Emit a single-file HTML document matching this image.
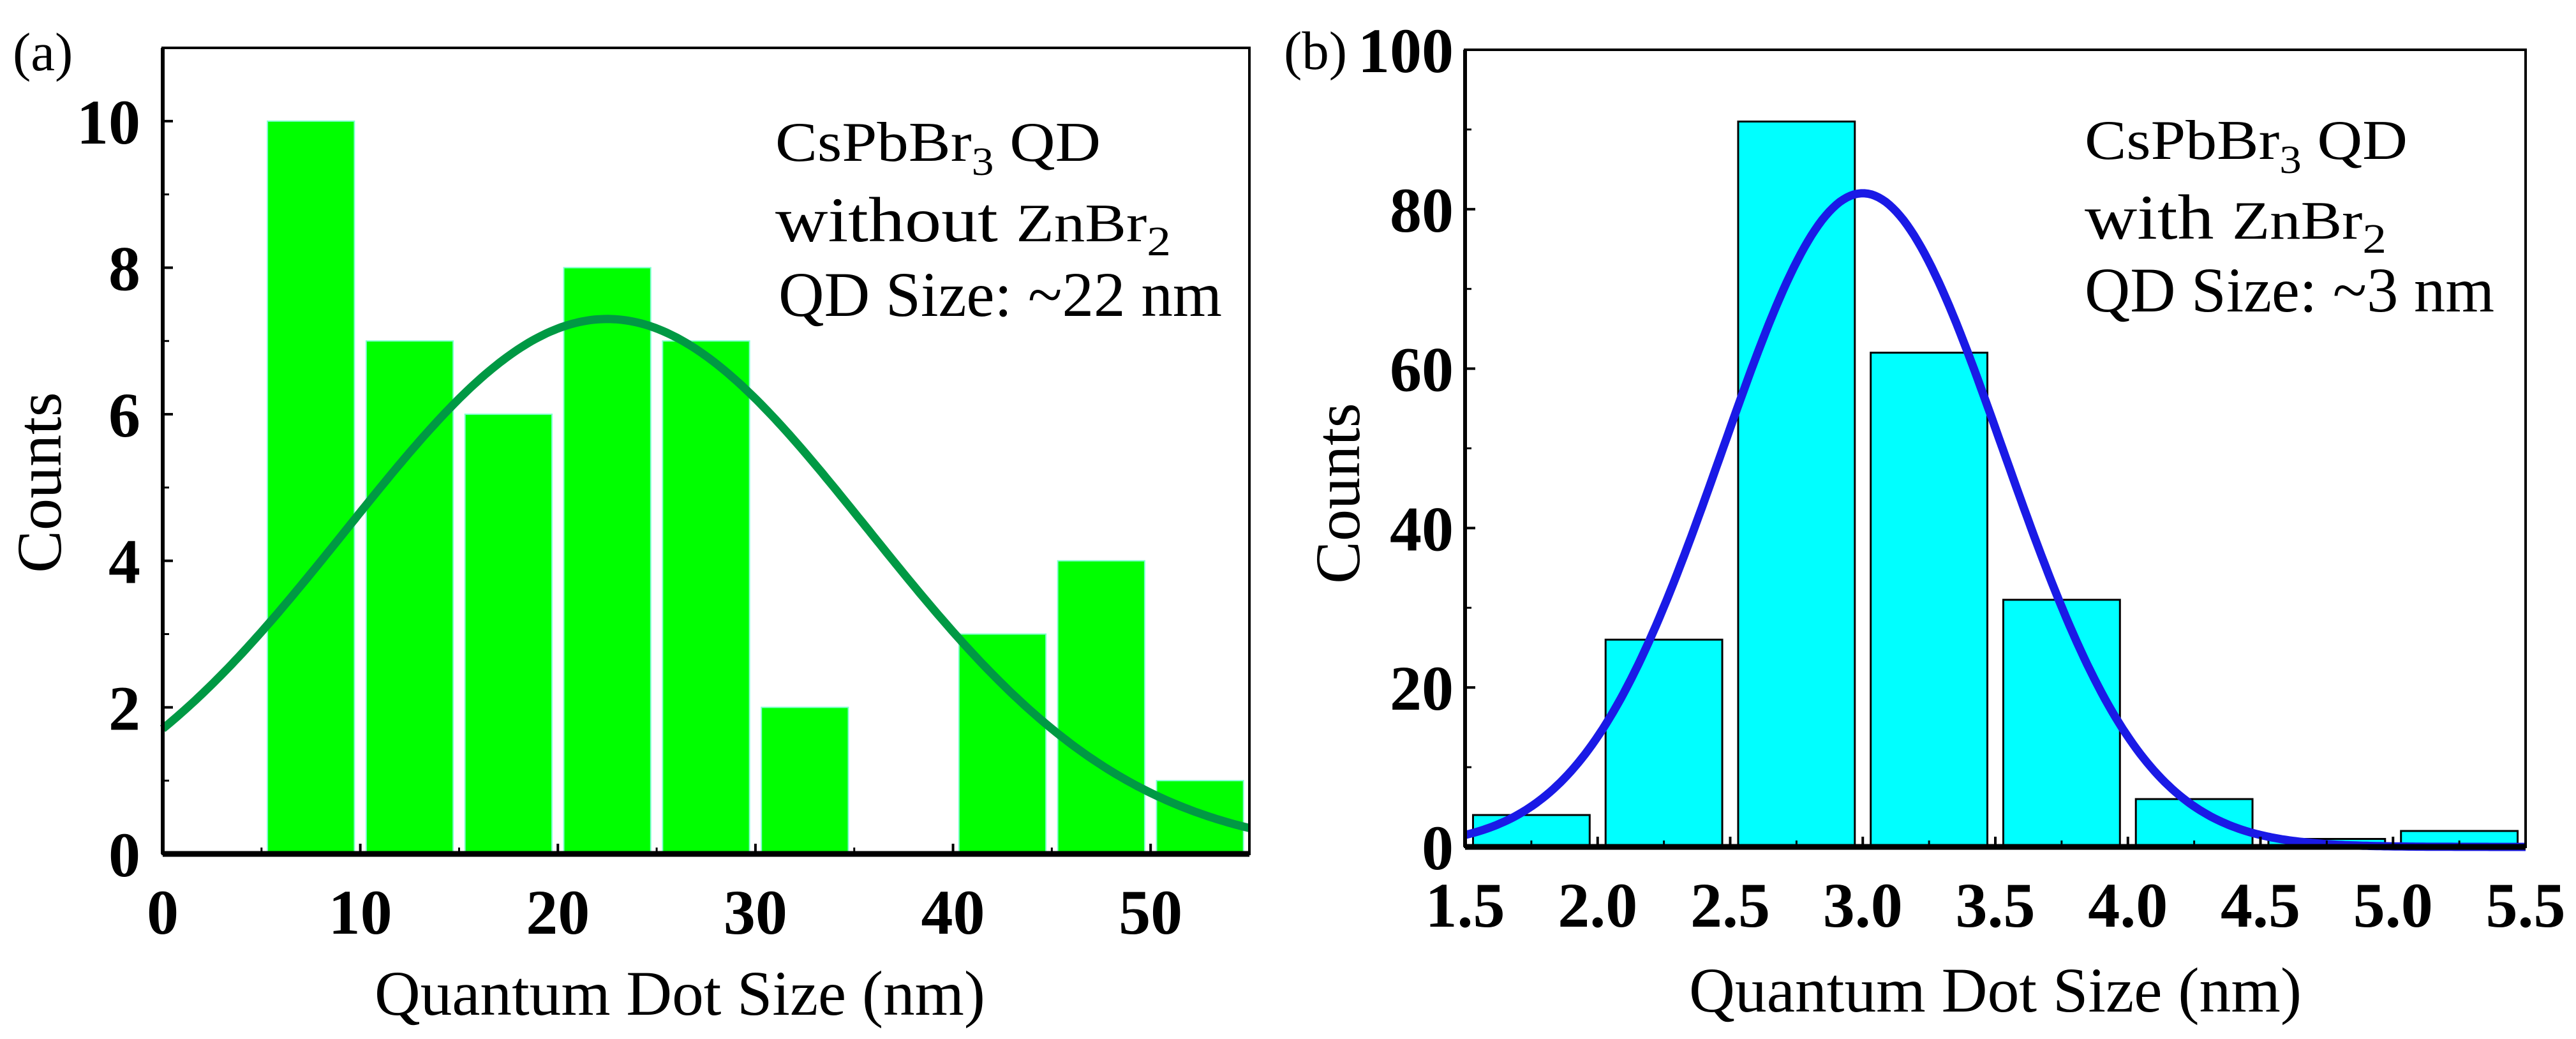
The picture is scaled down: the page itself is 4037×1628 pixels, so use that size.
<!DOCTYPE html>
<html><head><meta charset="utf-8"><style>
html,body{margin:0;padding:0;background:#fff;}
svg{display:block;font-family:"Liberation Serif",serif;}
</style></head><body>
<svg id="fig" width="4037" height="1628" viewBox="0 0 4037 1628" xmlns="http://www.w3.org/2000/svg">
<rect width="4037" height="1628" fill="#fff"/>
<g id="pa"></g>
<g id="pb"></g>
</svg>
<script>
// Panel (a) data
const aBinCenters = [7.5, 12.5, 17.5, 22.5, 27.5, 32.5, 37.5, 42.5, 47.5, 52.5];
const aCounts = [10, 7, 6, 8, 7, 2, 0, 3, 4, 1];
const aXTicks = [0, 10, 20, 30, 40, 50];
const aYTicks = [0, 2, 4, 6, 8, 10];
const aFit = [7.3, 22.5, 13.2]; // amplitude, center, sigma
// Panel (b) data
const bBinCenters = [1.75, 2.25, 2.75, 3.25, 3.75, 4.25, 4.75, 5.25];
const bCounts = [4, 26, 91, 62, 31, 6, 1, 2];
const bXTicks = [1.5, 2.0, 2.5, 3.0, 3.5, 4.0, 4.5, 5.0, 5.5];
const bYTicks = [0, 20, 40, 60, 80, 100];
const bFit = [82, 3.0, 0.53];

const NS = "http://www.w3.org/2000/svg";
function mk(parent, tag, attrs, text){
  const e = document.createElementNS(NS, tag);
  for (const k in attrs) e.setAttribute(k, attrs[k]);
  if (text !== undefined) e.textContent = text;
  parent.appendChild(e);
  return e;
}

function panel(g, cfg){
  const sx = v => cfg.x0 + (v - cfg.xmin) / (cfg.xmax - cfg.xmin) * (cfg.x1 - cfg.x0);
  const sy = v => cfg.y0 - (v - cfg.ymin) / (cfg.ymax - cfg.ymin) * (cfg.y0 - cfg.y1);
  cfg.centers.forEach((c, i) => {
    if (cfg.counts[i] <= 0) return;
    const r = mk(g, 'rect', {x: sx(c - cfg.barHalf), y: sy(cfg.counts[i]), width: sx(c + cfg.barHalf) - sx(c - cfg.barHalf), height: sy(0) - sy(cfg.counts[i]), fill: cfg.barFill, stroke: cfg.barStroke, 'stroke-width': cfg.barStrokeW});
    
    
  });
  let d = '';
  const N = 300;
  for (let k = 0; k <= N; k++){
    const x = cfg.xmin + (cfg.xmax - cfg.xmin) * k / N;
    const y = cfg.fit[0] * Math.exp(-Math.pow(x - cfg.fit[1], 2) / (2 * cfg.fit[2] * cfg.fit[2]));
    d += (k ? 'L' : 'M') + sx(x).toFixed(1) + ',' + sy(y).toFixed(1);
  }
  const p = mk(g, 'path', {d: d, fill: 'none', stroke: cfg.fitColor, 'stroke-width': cfg.fitW});
  
  
  const fr = mk(g, 'rect', {x: cfg.x0, y: cfg.y1, width: cfg.x1 - cfg.x0, height: cfg.y0 - cfg.y1, fill: 'none', stroke: '#000', 'stroke-width': 4});
  
  
  const xa = mk(g, 'line', {x1: cfg.x0, y1: cfg.y0, x2: cfg.x1, y2: cfg.y0, stroke: '#000', 'stroke-width': 9});
  
  
  const ya = mk(g, 'line', {x1: cfg.x0, y1: cfg.y0, x2: cfg.x0, y2: cfg.y1, stroke: '#000', 'stroke-width': 6});
  
  
  cfg.xTicks.forEach((t, i) => {
    mk(g, 'line', {x1: sx(t), y1: cfg.y0, x2: sx(t), y2: cfg.y0 - 16, stroke: '#000', 'stroke-width': 4});
    const lb = mk(g, 'text', {x: sx(t), y: cfg.y0 + 125, 'text-anchor': 'middle', 'font-size': 100, 'font-weight': 'bold'}, cfg.xFmt(t));
    
    
    if (i < cfg.xTicks.length - 1) {
      const m = (t + cfg.xTicks[i + 1]) / 2;
      mk(g, 'line', {x1: sx(m), y1: cfg.y0, x2: sx(m), y2: cfg.y0 - 10, stroke: '#000', 'stroke-width': 3});
    }
  });
  cfg.yTicks.forEach((t, i) => {
    mk(g, 'line', {x1: cfg.x0, y1: sy(t), x2: cfg.x0 + 16, y2: sy(t), stroke: '#000', 'stroke-width': 4});
    const lb = mk(g, 'text', {x: cfg.yLabX, y: sy(t) + 35, 'text-anchor': 'end', 'font-size': 100, 'font-weight': 'bold'}, String(t));
    
    
    if (i < cfg.yTicks.length - 1) {
      const m = (t + cfg.yTicks[i + 1]) / 2;
      mk(g, 'line', {x1: cfg.x0, y1: sy(m), x2: cfg.x0 + 10, y2: sy(m), stroke: '#000', 'stroke-width': 3});
    }
  });
}

const ga = document.getElementById('pa');
panel(ga, {x0: 255, x1: 1958, y0: 1338, y1: 75, xmin: 0, xmax: 55, ymin: 0, ymax: 11,
  centers: aBinCenters, counts: aCounts, barHalf: 2.2, barFill: '#00ff00', barStroke: '#80ffd0', barStrokeW: 2,
  fit: aFit, fitColor: '#009944', fitW: 13, xTicks: aXTicks, yTicks: aYTicks, xFmt: t => String(t), yLabX: 220});

const gb = document.getElementById('pb');
panel(gb, {x0: 2296, x1: 3958, y0: 1327, y1: 78, xmin: 1.5, xmax: 5.5, ymin: 0, ymax: 100,
  centers: bBinCenters, counts: bCounts, barHalf: 0.22, barFill: '#00ffff', barStroke: '#000', barStrokeW: 3,
  fit: bFit, fitColor: '#1a1ae6', fitW: 13, xTicks: bXTicks, yTicks: bYTicks, xFmt: t => t.toFixed(1), yLabX: 2278});
</script>
<svg style="position:absolute;left:0;top:0" width="4037" height="1628" xmlns="http://www.w3.org/2000/svg" font-family="Liberation Serif, serif">
<text x="20" y="110" font-size="85">(a)</text>
<text x="2012" y="108" font-size="85">(b)</text>
<text transform="translate(95,756) rotate(-90)" text-anchor="middle" font-size="100">Counts</text>
<text transform="translate(2130,773) rotate(-90)" text-anchor="middle" font-size="100">Counts</text>
<text x="587" y="1590" font-size="100" textLength="957" lengthAdjust="spacingAndGlyphs">Quantum Dot Size (nm)</text>
<text x="2647" y="1585" font-size="100" textLength="960" lengthAdjust="spacingAndGlyphs">Quantum Dot Size (nm)</text>
<g>
<text x="1215" y="252" font-size="88" textLength="510" lengthAdjust="spacingAndGlyphs">CsPbBr<tspan font-size="62" dy="22">3</tspan><tspan dy="-22">  QD</tspan></text>
<text x="1215" y="378" font-size="100" textLength="620" lengthAdjust="spacingAndGlyphs">without <tspan font-size="85">ZnBr</tspan><tspan font-size="66" dy="22">2</tspan></text>
<text x="1220" y="495" font-size="100" textLength="695" lengthAdjust="spacingAndGlyphs">QD Size: ~22 nm</text>
</g>
<g>
<text x="3267" y="249" font-size="88" textLength="506" lengthAdjust="spacingAndGlyphs">CsPbBr<tspan font-size="62" dy="22">3</tspan><tspan dy="-22">  QD</tspan></text>
<text x="3267" y="374" font-size="100" textLength="473" lengthAdjust="spacingAndGlyphs">with <tspan font-size="85">ZnBr</tspan><tspan font-size="66" dy="22">2</tspan></text>
<text x="3267" y="488" font-size="100" textLength="642" lengthAdjust="spacingAndGlyphs">QD Size: ~3 nm</text>
</g>
</svg>
</body></html>
